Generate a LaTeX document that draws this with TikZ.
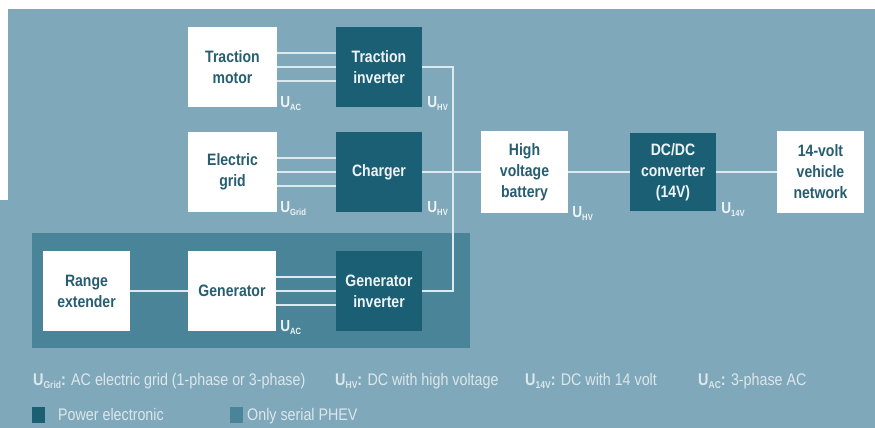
\documentclass[tikz,border=0pt]{standalone}
\usepackage{fontspec}
\setmainfont{Liberation Sans}[FakeStretch=0.85]
\usetikzlibrary{calc}
\definecolor{bgc}{HTML}{7FA8BA}
\definecolor{serialc}{HTML}{4A8498}
\definecolor{darkc}{HTML}{1B5F74}
\definecolor{wtext}{HTML}{265D71}
\definecolor{linec}{HTML}{DCEAF0}
\definecolor{lbl}{HTML}{EEF4F6}
\definecolor{legc}{HTML}{DCE7EB}
\newcommand{\usub}[1]{\raisebox{-0.4ex}{\fontsize{9}{9}\selectfont\bfseries #1}}
\newcommand{\lsub}[1]{\raisebox{-0.4ex}{\fontsize{10}{10}\selectfont\bfseries #1}}
\tikzset{
  wbox/.style={fill=white, draw=none, inner sep=0pt, align=center,
    text=wtext, font=\fontsize{16.5}{21}\selectfont\bfseries},
  dbox/.style={fill=darkc, draw=none, inner sep=0pt, align=center,
    text=lbl, font=\fontsize{16.5}{21}\selectfont\bfseries},
  wire/.style={draw=linec, line width=1.4pt},
  ulabel/.style={anchor=base west, inner sep=0pt, text=lbl, font=\fontsize{16}{16}\selectfont\bfseries},
  legtext/.style={anchor=base west, inner sep=0pt, text=legc, font=\fontsize{16.8}{17}\selectfont},
}
\begin{document}
\begin{tikzpicture}[x=1pt,y=-1pt]
\useasboundingbox (0,0) rectangle (875,428);
\fill[white] (0,0) rectangle (875,428);
\fill[bgc] (8,9) rectangle (875,428);
\fill[bgc] (0,200) rectangle (8,428);
% serial PHEV region
\fill[serialc] (32,233) rectangle (470,348);

% boxes
\node[wbox, minimum width=89pt, minimum height=80pt] (tm) at (232.5,67) {Traction\\motor};
\node[dbox, minimum width=86pt, minimum height=80pt] (ti) at (379,67) {Traction\\inverter};
\node[wbox, minimum width=89pt, minimum height=80pt] (eg) at (232.5,172) {Electric\\grid};
\node[dbox, minimum width=86pt, minimum height=80pt] (ch) at (379,172) {Charger};
\node[wbox, minimum width=87pt, minimum height=82pt] (hv) at (524.5,172) {High\\voltage\\battery};
\node[dbox, minimum width=86pt, minimum height=78pt] (dc) at (673,172) {DC/DC\\converter\\(14V)};
\node[wbox, minimum width=87pt, minimum height=82pt] (nw) at (820.5,172) {14-volt\\vehicle\\network};
\node[wbox, minimum width=87pt, minimum height=80pt] (re) at (86.5,291) {Range\\extender};
\node[wbox, minimum width=88pt, minimum height=80pt] (ge) at (232,291) {Generator};
\node[dbox, minimum width=86pt, minimum height=80pt] (gi) at (379,291) {Generator\\inverter};

% three-phase connections
\foreach \d in {-14,0,14}{
  \draw[wire] ([yshift=\d pt]tm.east) -- ([yshift=\d pt]ti.west);
  \draw[wire] ([yshift=\d pt]eg.east) -- ([yshift=\d pt]ch.west);
  \draw[wire] ([yshift=\d pt]ge.east) -- ([yshift=\d pt]gi.west);
}
\draw[wire] (re.east) -- (ge.west);

% HV bus
\coordinate (busT) at (453,67);
\coordinate (busB) at (453,291);
\draw[wire] (ti.east) -- (busT) -- (busB) -- (gi.east);
\draw[wire] (ch.east) -- (hv.west);
\draw[wire] (hv.east) -- (dc.west);
\draw[wire] (dc.east) -- (nw.west);

% voltage labels
\node[ulabel] (l1) at ([xshift=3pt]tm.south east) {U\usub{AC}};
\node[ulabel] (l2) at ([xshift=5pt]ti.south east) {U\usub{HV}};
\node[ulabel] (l3) at ([xshift=3pt]eg.south east) {U\usub{Grid}};
\node[ulabel] (l4) at ([xshift=5pt]ch.south east) {U\usub{HV}};
\node[ulabel] (l5) at ([xshift=4pt,yshift=-4pt]hv.south east) {U\usub{HV}};
\node[ulabel] (l6) at ([xshift=5pt,yshift=-2pt]dc.south east) {U\usub{14V}};
\node[ulabel] (l7) at ([xshift=4pt]ge.south east) {U\usub{AC}};

% legend
\node[legtext] (g1) at (33,385) {\textbf{\fontsize{17}{17}\selectfont U\lsub{Grid}:} AC electric grid (1-phase or 3-phase)};
\node[legtext] (g2) at (335,385) {\textbf{\fontsize{17}{17}\selectfont U\lsub{HV}:} DC with high voltage};
\node[legtext] (g3) at (525,385) {\textbf{\fontsize{17}{17}\selectfont U\lsub{14V}:} DC with 14 volt};
\node[legtext] (g4) at (698,385) {\textbf{\fontsize{17}{17}\selectfont U\lsub{AC}:} 3-phase AC};
\fill[darkc] (32,407) rectangle (45,423);
\node[legtext] (g5) at (58,420) {Power electronic};
\fill[serialc] (230,407) rectangle (243,423);
\node[legtext] (g6) at (247,420) {Only serial PHEV};
\end{tikzpicture}
\end{document}
